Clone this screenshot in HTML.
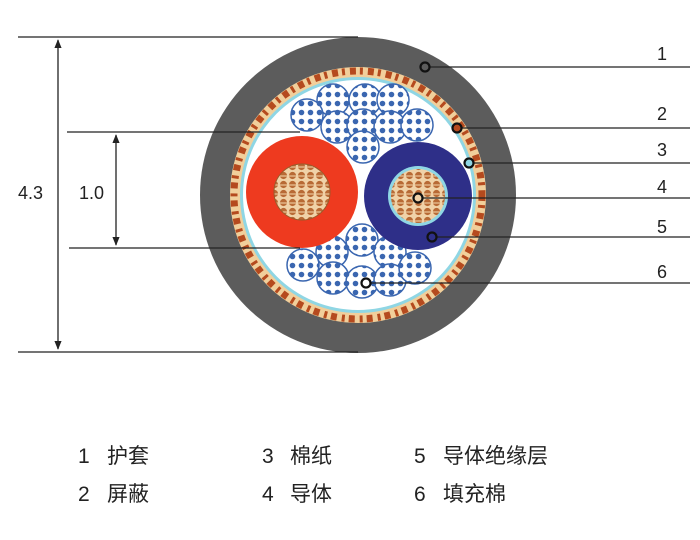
<!DOCTYPE html>
<html><head><meta charset="utf-8"><style>
html,body{margin:0;padding:0;background:#fff;}
svg{display:block}
text{font-family:"Liberation Sans","Noto Sans CJK SC",sans-serif;fill:#222}
</style></head><body>
<svg width="700" height="540" viewBox="0 0 700 540" xmlns="http://www.w3.org/2000/svg">
<defs>
<pattern id="dots" width="9" height="9" patternUnits="userSpaceOnUse">
<rect width="9" height="9" fill="#fff"/><circle cx="4.5" cy="4.5" r="2.8" fill="#3a66b0"/></pattern>
<pattern id="cu" width="9" height="9" patternUnits="userSpaceOnUse">
<rect width="9" height="9" fill="#f0d2a8"/><circle cx="4.5" cy="4.5" r="3.6" fill="#b86a35"/><rect x="1" y="4.5" width="7" height="1" fill="#f6d9b0"/></pattern>
<marker id="ar" viewBox="0 0 10 10" refX="9" refY="5" markerWidth="7" markerHeight="7" orient="auto-start-reverse"><path d="M0,1 L10,5 L0,9z" fill="#222"/></marker>
</defs>
<!-- cable -->
<circle cx="358" cy="195" r="158" fill="#5c5c5c"/>
<circle cx="358" cy="195" r="128" fill="#f1cf9b"/>
<circle cx="358" cy="195" r="124" fill="none" stroke="#b54a1e" stroke-width="7" stroke-dasharray="6 4 3 5"/>
<circle cx="358" cy="195" r="118" fill="#8fd6e4"/>
<circle cx="358" cy="195" r="115" fill="#fff"/>
<g fill="url(#dots)" stroke="#3a66b0" stroke-width="1.5">
<circle cx="333" cy="100" r="16"/><circle cx="307" cy="115" r="16"/><circle cx="365" cy="100" r="16"/><circle cx="393" cy="100" r="16"/>
<circle cx="337" cy="127" r="16"/><circle cx="363" cy="125" r="16"/><circle cx="390" cy="127" r="16"/><circle cx="417" cy="125" r="16"/><circle cx="363" cy="147" r="16"/>
<circle cx="362" cy="240" r="16"/><circle cx="332" cy="252" r="16"/><circle cx="390" cy="252" r="16"/><circle cx="303" cy="265" r="16"/>
<circle cx="333" cy="278" r="16"/><circle cx="362" cy="282" r="16"/><circle cx="390" cy="280" r="16"/><circle cx="415" cy="268" r="16"/>
</g>
<circle cx="302" cy="192" r="56" fill="#ee3a1f"/>
<circle cx="302" cy="192" r="28" fill="url(#cu)" stroke="#9a5a2a"/>
<circle cx="418" cy="196" r="54" fill="#2e2f88"/>
<circle cx="418" cy="196" r="30" fill="#8fd6e4"/>
<circle cx="418" cy="196" r="27" fill="url(#cu)"/>
<!-- dimension lines -->
<g stroke="#222" stroke-width="1.3">
<line x1="18" y1="37" x2="358" y2="37"/>
<line x1="18" y1="352" x2="358" y2="352"/>
<line x1="67" y1="132" x2="300" y2="132"/>
<line x1="69" y1="248" x2="300" y2="248"/>
<line x1="58" y1="40" x2="58" y2="349" marker-start="url(#ar)" marker-end="url(#ar)"/>
<line x1="116" y1="135" x2="116" y2="245" marker-start="url(#ar)" marker-end="url(#ar)"/>
</g>
<text x="18" y="199" font-size="18">4.3</text>
<text x="79" y="199" font-size="18">1.0</text>
<!-- leaders -->
<g stroke="#222" stroke-width="1.3">
<line x1="425" y1="67" x2="690" y2="67"/><line x1="457" y1="128" x2="690" y2="128"/>
<line x1="469" y1="163" x2="690" y2="163"/><line x1="418" y1="198" x2="690" y2="198"/>
<line x1="432" y1="237" x2="690" y2="237"/><line x1="366" y1="283" x2="690" y2="283"/>
</g>
<g fill="none" stroke="#111" stroke-width="2.2">
<circle cx="425" cy="67" r="4.5" fill="#5c5c5c"/><circle cx="457" cy="128" r="4.5" fill="#b54a1e"/>
<circle cx="469" cy="163" r="4.5" fill="#8fd6e4"/><circle cx="418" cy="198" r="4.5" fill="#f0d2a8"/>
<circle cx="432" cy="237" r="4.5" fill="#2e2f88"/><circle cx="366" cy="283" r="4.5" fill="#fff"/>
</g>
<g font-size="18">
<text x="657" y="60">1</text><text x="657" y="120">2</text><text x="657" y="156">3</text>
<text x="657" y="193">4</text><text x="657" y="233">5</text><text x="657" y="278">6</text>
</g>
<g font-size="21">
<text x="78" y="463">1</text><text x="107" y="463">护套</text>
<text x="78" y="501">2</text><text x="107" y="501">屏蔽</text>
<text x="262" y="463">3</text><text x="290" y="463">棉纸</text>
<text x="262" y="501">4</text><text x="290" y="501">导体</text>
<text x="414" y="463">5</text><text x="443" y="463">导体绝缘层</text>
<text x="414" y="501">6</text><text x="443" y="501">填充棉</text>
</g>
</svg>
</body></html>
